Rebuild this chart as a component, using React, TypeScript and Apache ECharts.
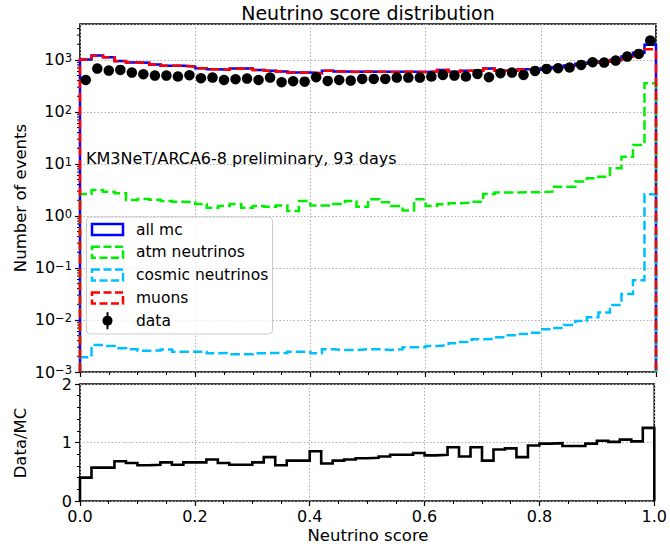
import React, { useEffect, useRef } from "react";
import * as echarts from "echarts";

// ---- data (50 bins of width 0.02 on the neutrino score) ----
const allMc = [
  1020, 1210, 1130, 950, 890, 880, 820, 770, 770, 750,
  690, 660, 650, 680, 680, 640, 620, 600, 575, 570,
  555, 620, 600, 590, 600, 595, 590, 590, 595, 585,
  600, 640, 590, 620, 620, 680, 620, 620, 660, 650,
  690, 720, 780, 840, 890, 930, 1000, 1160, 1380, 1950,
];
const muons = [
  1017, 1207, 1127, 947, 888, 878, 818, 768, 768, 748,
  688, 658, 648, 678, 678, 638, 618, 598, 573, 568,
  553, 618, 598, 588, 598, 593, 588, 588, 593, 583,
  598, 638, 588, 618, 618, 677, 617, 617, 657, 647,
  687, 716, 776, 835, 885, 924, 992, 1146, 1357, 1610,
];
const atmNeutrinos = [
  2.65, 3.16, 2.93, 2.73, 2.03, 2.12, 2.05, 1.94, 1.88, 1.83,
  1.7, 1.44, 1.56, 1.7, 1.44, 1.56, 1.51, 1.58, 1.25, 1.94,
  1.58, 1.58, 1.7, 1.94, 1.51, 2.09, 1.83, 1.56, 1.27, 2.09,
  1.56, 1.68, 1.76, 1.8, 1.88, 2.65, 2.81, 2.81, 2.85, 2.85,
  2.93, 3.66, 3.66, 4.57, 5.3, 5.7, 8.25, 13.8, 23.2, 355,
];
const cosmicNeutrinos = [
  1.92e-3, 3.3e-3, 3.16e-3, 2.86e-3, 2.73e-3, 2.57e-3, 2.6e-3, 2.7e-3, 2.46e-3, 2.46e-3,
  2.46e-3, 2.29e-3, 2.33e-3, 2.19e-3, 2.2e-3, 2.29e-3, 2.33e-3, 2.33e-3, 2.46e-3, 2.46e-3,
  2.29e-3, 2.73e-3, 2.65e-3, 2.65e-3, 2.73e-3, 2.73e-3, 2.65e-3, 2.73e-3, 2.98e-3, 2.98e-3,
  3.16e-3, 3.25e-3, 3.56e-3, 3.78e-3, 4.25e-3, 4.3e-3, 4.64e-3, 5.08e-3, 5.38e-3, 5.7e-3,
  6.63e-3, 7.0e-3, 8.0e-3, 9.6e-3, 1.13e-2, 1.39e-2, 1.94e-2, 3.16e-2, 5.8e-2, 2.6,
];
const dataCounts = [
  412, 681, 623, 642, 570, 530, 499, 499, 478, 508,
  444, 457, 412, 425, 437, 412, 457, 373, 389, 382,
  464, 395, 412, 400, 431, 431, 431, 457, 457, 457,
  478, 515, 499, 478, 538, 464, 555, 570, 515, 614,
  671, 692, 712, 801, 902, 888, 970, 1158, 1304, 2350,
];
const dataOverMc = [
  0.4, 0.57, 0.57, 0.68, 0.65, 0.61, 0.62, 0.66, 0.62, 0.66,
  0.66, 0.71, 0.65, 0.62, 0.62, 0.66, 0.75, 0.61, 0.69, 0.69,
  0.85, 0.64, 0.69, 0.71, 0.73, 0.74, 0.76, 0.79, 0.79, 0.82,
  0.78, 0.79, 0.92, 0.76, 0.92, 0.69, 0.88, 0.9, 0.75, 0.95,
  0.98, 0.99, 0.94, 0.94, 0.98, 1.03, 1.01, 1.05, 1.02, 1.25,
];
const logMinorTicks = [
  2e-3, 3e-3, 4e-3, 5e-3, 6e-3, 7e-3, 8e-3, 9e-3,
  2e-2, 3e-2, 4e-2, 5e-2, 6e-2, 7e-2, 8e-2, 9e-2,
  0.2, 0.3, 0.4, 0.5, 0.6, 0.7, 0.8, 0.9,
  2, 3, 4, 5, 6, 7, 8, 9,
  20, 30, 40, 50, 60, 70, 80, 90,
  200, 300, 400, 500, 600, 700, 800, 900,
  2000, 3000, 4000,
];
const yLogMin = 1e-3;
const yLogMax = 4900;

const FONT = "DejaVu Sans";

function stepPoints(vals: number[], floor: number) {
  const w = 1 / vals.length;
  const pts: number[][] = [[0, floor]];
  vals.forEach((v, i) => {
    pts.push([i * w, v]);
    pts.push([(i + 1) * w, v]);
  });
  pts.push([1, floor]);
  return pts;
}

function binCenters(vals: number[]) {
  const w = 1 / vals.length;
  return vals.map((v, i) => [(i + 0.5) * w, v]);
}

export default function App() {
  const ref = useRef<HTMLDivElement>(null);
  useEffect(() => {
    document.body.style.margin = "0";
    if (!ref.current) return;
    const chart = echarts.init(ref.current, null, { renderer: "svg" });
    const dash = [9.5, 4];
    const stepLine = (name: string, vals: number[], color: string, dashed: boolean) => ({
      name,
      type: "line",
      xAxisIndex: 0,
      yAxisIndex: 0,
      data: stepPoints(vals, yLogMin),
      symbol: "none",
      clip: true,
      lineStyle: { color, width: 2.5, type: dashed ? dash : "solid", join: "miter", cap: "butt" },
    });
    const legendRows = [
      { label: "all mc", color: "#0000ff", dashed: false },
      { label: "atm neutrinos", color: "#00ee00", dashed: true },
      { label: "cosmic neutrinos", color: "#00bfff", dashed: true },
      { label: "muons", color: "#ff0000", dashed: true },
    ];
    const legendGraphics: any[] = [
      {
        type: "rect",
        z: 100,
        shape: { x: 86.5, y: 217, width: 186, height: 117, r: 4 },
        style: { fill: "rgba(255,255,255,0.8)", stroke: "#cccccc", lineWidth: 1 },
      },
    ];
    legendRows.forEach((r, i) => {
      const cy = 229.5 + i * 22.8;
      legendGraphics.push({
        type: "rect",
        z: 101,
        shape: { x: 92, y: cy - 5.5, width: 31, height: 11 },
        style: { fill: "none", stroke: r.color, lineWidth: 2.5, lineDash: r.dashed ? [8, 3.5] : null },
      });
      legendGraphics.push({
        type: "text",
        z: 101,
        x: 136,
        y: cy,
        style: { text: r.label, fontSize: 15.5, fontFamily: FONT, fill: "#000", align: "left", verticalAlign: "middle" },
      });
    });
    const dcy = 229.5 + 4 * 22.8;
    legendGraphics.push(
      { type: "line", z: 101, shape: { x1: 107.5, y1: dcy - 8.5, x2: 107.5, y2: dcy + 8.5 }, style: { stroke: "#000", lineWidth: 2 } },
      { type: "circle", z: 102, shape: { cx: 107.5, cy: dcy, r: 5 }, style: { fill: "#000" } },
      {
        type: "text",
        z: 101,
        x: 136,
        y: dcy,
        style: { text: "data", fontSize: 15.5, fontFamily: FONT, fill: "#000", align: "left", verticalAlign: "middle" },
      }
    );

    const gridLine = { show: true, lineStyle: { color: "#b0b0b0", width: 1, type: [1.5, 2] } };

    chart.setOption({
      animation: false,
      textStyle: { fontFamily: FONT },
      grid: [
        { left: 80, top: 24, width: 576, height: 348, show: true, borderColor: "#000", borderWidth: 1.6, backgroundColor: "transparent" },
        { left: 80, top: 384, width: 576, height: 117, show: true, borderColor: "#000", borderWidth: 1.6, backgroundColor: "transparent" },
      ],
      xAxis: [
        {
          type: "value",
          gridIndex: 0,
          min: 0,
          max: 1,
          interval: 0.2,
          axisLine: { show: false },
          axisLabel: { show: false },
          axisTick: { show: true, inside: false, length: 5, lineStyle: { color: "#000", width: 1.2 } },
          minorTick: { show: true, splitNumber: 4, length: 3, lineStyle: { color: "#000", width: 1 } },
          splitLine: gridLine,
        },
        {
          type: "value",
          gridIndex: 1,
          min: 0,
          max: 1,
          interval: 0.2,
          axisLine: { show: false },
          axisLabel: { show: true, fontSize: 16, color: "#000", margin: 7, fontFamily: FONT, formatter: (v: number) => v.toFixed(1) },
          axisTick: { show: true, inside: false, length: 5, lineStyle: { color: "#000", width: 1.2 } },
          minorTick: { show: true, splitNumber: 4, length: 3, lineStyle: { color: "#000", width: 1 } },
          splitLine: gridLine,
        },
      ],
      yAxis: [
        {
          type: "log",
          logBase: 10,
          gridIndex: 0,
          min: yLogMin,
          max: yLogMax,
          axisLine: { show: false },
          axisTick: { show: true, inside: false, length: 5, lineStyle: { color: "#000", width: 1.2 } },
          axisLabel: {
            show: true,
            margin: 8,
            color: "#000",
            fontSize: 16,
            lineHeight: 16,
            fontFamily: FONT,
            showMaxLabel: false,
            formatter: (v: number) => {
              const l = Math.log10(v);
              const e = Math.round(l);
              if (Math.abs(l - e) > 0.01) return "";
              const es = e < 0 ? "\u2212" + Math.abs(e) : String(e);
              return "10{sup|" + es + "}";
            },
            rich: {
              sup: { fontSize: 11.5, lineHeight: 6, fontFamily: FONT, color: "#000", verticalAlign: "top", padding: [0, 0, 10, 0] },
            },
          },
          splitLine: gridLine,
        },
        {
          type: "value",
          gridIndex: 1,
          min: 0,
          max: 2,
          interval: 1,
          axisLine: { show: false },
          axisTick: { show: true, inside: false, length: 5, lineStyle: { color: "#000", width: 1.2 } },
          minorTick: { show: true, splitNumber: 5, length: 3, lineStyle: { color: "#000", width: 1 } },
          axisLabel: { show: true, margin: 8, color: "#000", fontSize: 16, fontFamily: FONT, lineHeight: 8 },
          splitLine: gridLine,
        },
      ],
      series: [
        {
          type: "custom",
          xAxisIndex: 0,
          yAxisIndex: 0,
          silent: true,
          clip: false,
          data: logMinorTicks.map((v) => [0, v]),
          renderItem: (_p: any, api: any) => {
            const pt = api.coord([0, api.value(1)]);
            return {
              type: "line",
              shape: { x1: pt[0] - 3, y1: pt[1], x2: pt[0], y2: pt[1] },
              style: { stroke: "#000", lineWidth: 1 },
            };
          },
        },
        stepLine("all mc", allMc, "#0000ff", false),
        stepLine("atm neutrinos", atmNeutrinos, "#00ee00", true),
        stepLine("cosmic neutrinos", cosmicNeutrinos, "#00bfff", true),
        stepLine("muons", muons, "#ff0000", true),
        {
          name: "data",
          type: "scatter",
          xAxisIndex: 0,
          yAxisIndex: 0,
          data: binCenters(dataCounts),
          symbol: "circle",
          symbolSize: 10.5,
          itemStyle: { color: "#000", opacity: 1 },
          z: 5,
        },
        {
          name: "Data/MC",
          type: "line",
          xAxisIndex: 1,
          yAxisIndex: 1,
          data: stepPoints(dataOverMc, 0),
          symbol: "none",
          lineStyle: { color: "#000", width: 2.6, join: "miter" },
        },
      ],
      graphic: [
        {
          type: "text",
          x: 368,
          y: 13,
          style: { text: "Neutrino score distribution", fontSize: 19, fontFamily: FONT, fill: "#000", align: "center", verticalAlign: "middle" },
        },
        {
          type: "text",
          x: 86,
          y: 158,
          z: 50,
          style: { text: "KM3NeT/ARCA6-8 preliminary, 93 days", fontSize: 16, fontFamily: FONT, fill: "#000", align: "left", verticalAlign: "middle" },
        },
        {
          type: "text",
          x: 20,
          y: 198,
          rotation: Math.PI / 2,
          style: { text: "Number of events", fontSize: 16.5, fontFamily: FONT, fill: "#000", align: "center", verticalAlign: "middle" },
        },
        {
          type: "text",
          x: 20,
          y: 443,
          rotation: Math.PI / 2,
          style: { text: "Data/MC", fontSize: 16.5, fontFamily: FONT, fill: "#000", align: "center", verticalAlign: "middle" },
        },
        {
          type: "text",
          x: 368,
          y: 535,
          style: { text: "Neutrino score", fontSize: 16.5, fontFamily: FONT, fill: "#000", align: "center", verticalAlign: "middle" },
        },
        ...legendGraphics,
      ],
    });
    return () => chart.dispose();
  }, []);
  return <div ref={ref} style={{ width: 670, height: 548 }} />;
}
